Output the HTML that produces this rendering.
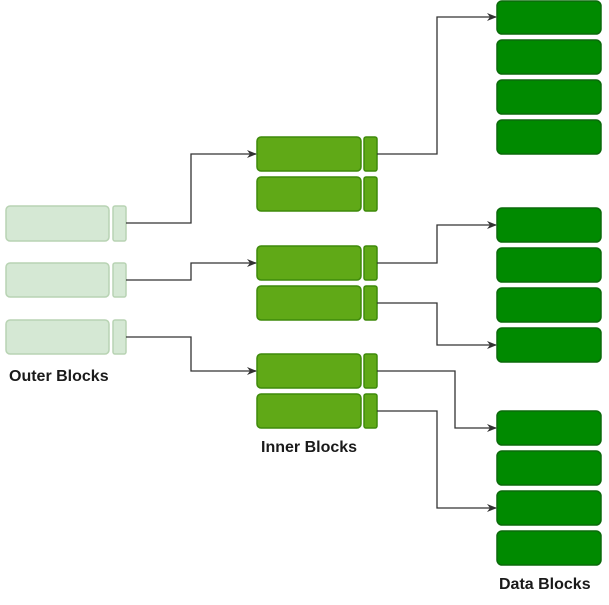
<!DOCTYPE html><html><head><style>body{margin:0;background:#fff}svg text{font-family:"Liberation Sans",sans-serif;font-weight:bold;font-size:16px;fill:#1a1a1a}</style></head><body>
<svg width="609" height="600" xmlns="http://www.w3.org/2000/svg">
<defs><marker id="a" markerWidth="10" markerHeight="8" refX="9" refY="4" orient="auto" markerUnits="userSpaceOnUse"><path d="M0,0 L10,4 L0,8 L3,4Z" fill="#333"/></marker></defs>
<g fill="#d5e8d4" stroke="#b8d3b3" stroke-width="1.5">
<rect x="6" y="206" width="103" height="35" rx="4"/><rect x="113" y="206" width="13" height="35" rx="2"/>
<rect x="6" y="263" width="103" height="34" rx="4"/><rect x="113" y="263" width="13" height="34" rx="2"/>
<rect x="6" y="320" width="103" height="34" rx="4"/><rect x="113" y="320" width="13" height="34" rx="2"/>
</g>
<g fill="#60a917" stroke="#3e8a0a" stroke-width="1.5">
<rect x="257" y="137" width="104" height="34" rx="4"/><rect x="364" y="137" width="13" height="34" rx="2"/>
<rect x="257" y="177" width="104" height="34" rx="4"/><rect x="364" y="177" width="13" height="34" rx="2"/>
<rect x="257" y="246" width="104" height="34" rx="4"/><rect x="364" y="246" width="13" height="34" rx="2"/>
<rect x="257" y="286" width="104" height="34" rx="4"/><rect x="364" y="286" width="13" height="34" rx="2"/>
<rect x="257" y="354" width="104" height="34" rx="4"/><rect x="364" y="354" width="13" height="34" rx="2"/>
<rect x="257" y="394" width="104" height="34" rx="4"/><rect x="364" y="394" width="13" height="34" rx="2"/>
</g>
<g fill="#008a00" stroke="#0a6a0a" stroke-width="1.5">
<rect x="497" y="1" width="104" height="33" rx="5"/><rect x="497" y="40" width="104" height="34" rx="5"/><rect x="497" y="80" width="104" height="34" rx="5"/><rect x="497" y="120" width="104" height="34" rx="5"/>
<rect x="497" y="208" width="104" height="34" rx="5"/><rect x="497" y="248" width="104" height="34" rx="5"/><rect x="497" y="288" width="104" height="34" rx="5"/><rect x="497" y="328" width="104" height="34" rx="5"/>
<rect x="497" y="411" width="104" height="34" rx="5"/><rect x="497" y="451" width="104" height="34" rx="5"/><rect x="497" y="491" width="104" height="34" rx="5"/><rect x="497" y="531" width="104" height="34" rx="5"/>
</g>
<g fill="none" stroke="#333" stroke-width="1.3" marker-end="url(#a)">
<path d="M126 223H191V154H256"/>
<path d="M126 280H191V263H256"/>
<path d="M126 337H191V371H256"/>
<path d="M377 154H437V17H496"/>
<path d="M377 263H437V225H496"/>
<path d="M377 303H437V345H496"/>
<path d="M377 371H455V428H496"/>
<path d="M377 411H437V508H496"/>
</g>
<text x="9" y="381">Outer Blocks</text>
<text x="261" y="452">Inner Blocks</text>
<text x="499" y="589">Data Blocks</text>
</svg></body></html>
